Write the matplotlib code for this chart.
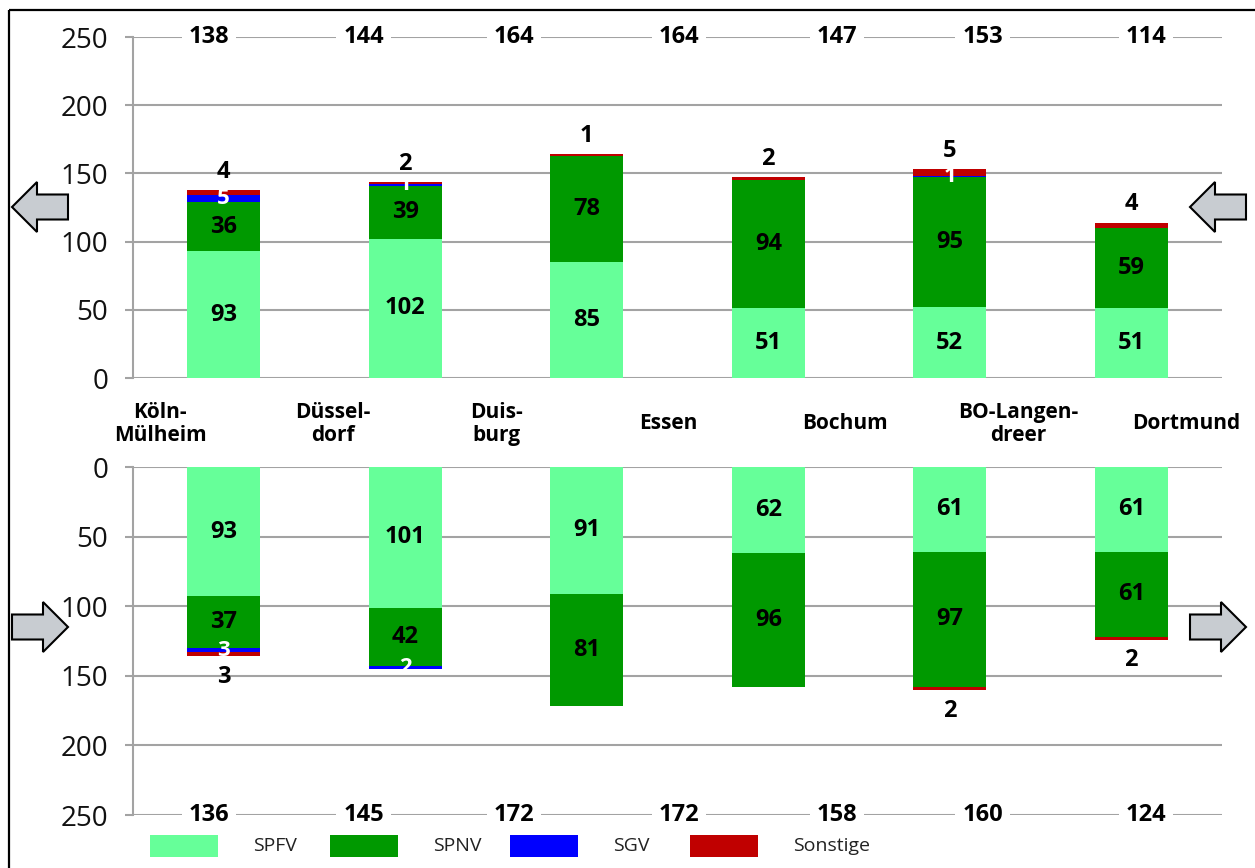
import matplotlib
matplotlib.use("Agg")
import matplotlib.pyplot as plt
from matplotlib.patches import Polygon, Rectangle
import numpy as np

plt.rcParams['font.family'] = ['Open Sans', 'DejaVu Sans']

# Stations along the line
stations = ["Köln-\nMülheim", "Düssel-\ndorf", "Duis-\nburg", "Essen", "Bochum",
            "BO-Langen-\ndreer", "Dortmund"]

# Direction towards Köln (upper panel), trains per segment
up_spfv = [93, 102, 85, 51, 52, 51]
up_spnv = [36, 39, 78, 94, 95, 59]
up_sgv = [5, 1, 0, 0, 1, 0]
up_sonst = [4, 2, 1, 2, 5, 4]
up_totals = [138, 144, 164, 164, 147, 153, 114]

# Direction towards Dortmund (lower panel)
dn_spfv = [93, 101, 91, 62, 61, 61]
dn_spnv = [37, 42, 81, 96, 97, 61]
dn_sgv = [3, 2, 0, 0, 0, 0]
dn_sonst = [3, 0, 0, 0, 2, 2]
dn_totals = [136, 145, 172, 172, 158, 160, 124]

series_names = ["SPFV", "SPNV", "SGV", "Sonstige"]
colors = ["#66FF99", "#009900", "#0000FF", "#C00000"]
yticks = [0, 50, 100, 150, 200, 250]

W, H = 1255, 868
fig = plt.figure(figsize=(W / 100, H / 100), dpi=100)
fig.patch.set_facecolor("white")

GRID = "#A3A3A3"
ax_up = fig.add_axes([133 / W, 1 - 378 / H, (1222 - 133) / W, (378 - 37) / H])
ax_dn = fig.add_axes([133 / W, 1 - 815 / H, (1222 - 133) / W, (815 - 467) / H])

# positions of the station labels and total labels along the x axis
station_x = [-0.35, 0.60, 1.50, 2.45, 3.42, 4.38, 5.30]
total_x = [-0.08, 0.77, 1.60, 2.51, 3.38, 4.18, 5.08]

bar_x = np.arange(len(up_spfv))
bar_w = 0.4


def style_axis(ax, inverted):
    ax.set_xlim(-0.5, 5.5)
    if inverted:
        ax.set_ylim(250, 0)
    else:
        ax.set_ylim(0, 250)
    ax.set_yticks(yticks)
    ax.set_yticklabels([str(t) for t in yticks], fontsize=20)
    ax.set_xticks([])
    ax.set_axisbelow(True)
    ax.grid(axis="y", color=GRID, linewidth=1.5)
    for s in ["top", "right", "bottom"]:
        ax.spines[s].set_visible(False)
    ax.spines["left"].set_color(GRID)
    ax.spines["left"].set_linewidth(1.5)
    ax.tick_params(axis="y", length=6, width=1.5, color=GRID, pad=12,
                   labelcolor="#111111")
    ax.patch.set_alpha(0)


def draw_panel(ax, spfv, spnv, sgv, sonst, totals, inverted):
    style_axis(ax, inverted)
    layers = [spfv, spnv, sgv, sonst]
    bottom = np.zeros(len(spfv))
    for vals, col in zip(layers, colors):
        ax.bar(bar_x, vals, bar_w, bottom=bottom, color=col, linewidth=0, zorder=2)
        bottom = bottom + np.array(vals)
    # value labels
    for i in range(len(spfv)):
        b = 0
        for k, vals in enumerate(layers):
            v = vals[i]
            if v > 0:
                if k < 2:
                    ax.text(bar_x[i], b + v / 2, str(v), ha="center", va="center",
                            fontsize=17, fontweight="bold", color="black", zorder=4)
                elif k == 2:
                    ax.text(bar_x[i], b + v / 2, str(v), ha="center", va="center",
                            fontsize=16, fontweight="bold", color="white", zorder=4)
                else:
                    off = -15 if inverted else 13
                    ax.annotate(str(v), (bar_x[i], b + v), xytext=(0, off),
                                textcoords="offset points", ha="center", va="center",
                                fontsize=17, fontweight="bold", color="black", zorder=4)
            b += v
    # totals written on the 250 line
    for xp, t in zip(total_x, totals):
        ax.text(xp, 250, str(t), ha="center", va="center", fontsize=17,
                fontweight="bold", color="black", zorder=5,
                bbox=dict(facecolor="white", edgecolor="none", pad=5))


draw_panel(ax_up, up_spfv, up_spnv, up_sgv, up_sonst, up_totals, False)
draw_panel(ax_dn, dn_spfv, dn_spnv, dn_sgv, dn_sonst, dn_totals, True)

# station names between the panels
for xp, name in zip(station_x, stations):
    ax_up.annotate(name, (xp, 0), xytext=(0, -33), textcoords="offset points",
                   ha="center", va="center", fontsize=15, fontweight="bold",
                   linespacing=1.1, annotation_clip=False)

# overlay in pixel coordinates for arrows, legend and frame
ov = fig.add_axes([0, 0, 1, 1])
ov.set_xlim(0, W)
ov.set_ylim(H, 0)
ov.axis("off")
ov.patch.set_alpha(0)


def arrow(x0, yc, left):
    L, hl, hw, sw = 56, 25, 25, 12.5
    if left:
        pts = [(x0, yc), (x0 + hl, yc - hw), (x0 + hl, yc - sw), (x0 + L, yc - sw),
               (x0 + L, yc + sw), (x0 + hl, yc + sw), (x0 + hl, yc + hw)]
    else:
        pts = [(x0 + L, yc), (x0 + L - hl, yc - hw), (x0 + L - hl, yc - sw), (x0, yc - sw),
               (x0, yc + sw), (x0 + L - hl, yc + sw), (x0 + L - hl, yc + hw)]
    ov.add_patch(Polygon(pts, closed=True, facecolor="#C8CCD1", edgecolor="black",
                         linewidth=1.5, zorder=3))


arrow(12, 207, True)
arrow(1190, 207, True)
arrow(12, 627, False)
arrow(1190, 627, False)

# legend
leg_x = [150, 330, 510, 690]
for lx, name, col in zip(leg_x, series_names, colors):
    ov.add_patch(Rectangle((lx, 835), 68, 22, facecolor=col, edgecolor="none"))
    ov.text(lx + 103, 846, name, ha="left", va="center", fontsize=14, color="#222222")

# frame
ov.plot([9, 9], [H + 5, 10], color="black", linewidth=1.6, solid_capstyle="butt")
ov.plot([9, W + 5], [10, 10], color="black", linewidth=1.6, solid_capstyle="butt")

fig.savefig("out.png", dpi=100, facecolor="white")
